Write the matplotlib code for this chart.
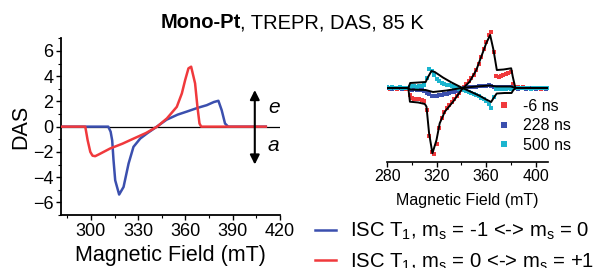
import numpy as np
import matplotlib
matplotlib.use("Agg")
import matplotlib.pyplot as plt
from matplotlib.lines import Line2D
from matplotlib.ticker import MultipleLocator

plt.rcParams['font.family'] = ['Liberation Sans', 'DejaVu Sans']
plt.rcParams['mathtext.fontset'] = 'custom'
plt.rcParams['mathtext.rm'] = 'Liberation Sans'
plt.rcParams['mathtext.it'] = 'Liberation Sans:italic'

# main DAS curves (field in mT)
das_blue_x = [281, 295, 311, 312.5, 313.5, 314.3, 315.4, 317.9, 320.7, 323.9, 327, 331.3, 336, 341.8,
              348, 355, 361, 368, 373.5, 378, 380.9, 383, 385.1, 387.1, 411]
das_blue_y = [0, 0, 0, -0.4, -1.1, -2.6, -4.25, -5.38, -4.78, -2.92, -1.6, -0.94, -0.5, 0,
              0.55, 0.95, 1.2, 1.5, 1.7, 1.95, 2.05, 1.3, 0.25, 0, 0]
das_red_x = [281, 296.4, 297.9, 299.6, 301, 302.7, 305, 312.2, 320, 327, 335, 342, 348.2, 354.5,
             357.7, 359.8, 361.9, 363.6, 366.1, 367.6, 368.9, 370, 411]
das_red_y = [0, 0, -1.07, -2.0, -2.3, -2.34, -2.2, -1.73, -1.35, -0.95, -0.5, 0, 0.65, 1.57,
             2.63, 3.69, 4.62, 4.75, 3.43, 1.57, 0.25, 0, 0]
legend_labels = [r'ISC T$_1$, m$_\mathregular{s}$ = -1 <-> m$_\mathregular{s}$ = 0',
                 r'ISC T$_1$, m$_\mathregular{s}$ = 0 <-> m$_\mathregular{s}$ = +1']

# inset: spectra at three delays, sampled every 2 mT from 280 to 410
field = np.arange(280, 411, 2)
pts_m6 = [0.05, -0.05, 0.1, 0.0, -0.1, 0.05, 0.0, -0.05, -0.1, -0.7,
          -1.0, -1.05, -1.1, -1.1, -1.15, -1.25, -2.2, -4.8, -6.4, -6.6,
          -5.6, -4.0, -3.0, -2.4, -2.0, -1.65, -1.35, -1.05, -0.75, -0.45,
          -0.15, 0.15, 0.4, 0.7, 1.0, 1.35, 1.8, 2.4, 3.1, 3.9,
          4.6, 5.3, 5.6, 3.6, 1.2, 1.15, 1.25, 1.35, 1.45, 1.55,
          1.6, 0.4, 0.1, 0.15, 0.05, 0.1, 0.0, 0.05, -0.05, 0.05,
          0.0, 0.05, -0.05, 0.05, 0.0, 0.05]
pts_228 = [0.0, 0.05, -0.05, 0.0, 0.05, 0.0, -0.05, 0.0, 0.0, -0.1,
           -0.15, -0.1, -0.15, -0.2, -0.15, -0.25, -0.45, -0.6, -0.75, -0.8,
           -0.75, -0.7, -0.65, -0.6, -0.55, -0.5, -0.4, -0.35, -0.25, -0.15,
           -0.05, 0.0, 0.05, 0.1, 0.1, 0.15, 0.15, 0.2, 0.2, 0.25,
           0.25, 0.3, 0.25, 0.15, 0.1, 0.1, 0.15, 0.1, 0.15, 0.1,
           0.15, 0.0, 0.05, -0.05, 0.0, 0.05, -0.05, 0.0, 0.05, 0.0,
           -0.05, 0.0, 0.05, 0.0, -0.05, 0.0]
pts_500 = [0.1, 0.05, 0.1, 0.0, 0.05, 0.1, 0.05, 0.0, 0.05, 0.15,
           0.2, 0.2, 0.15, 0.2, 0.25, 0.3, 1.0, 1.9, 1.7, 1.3,
           0.95, 0.75, 0.55, 0.45, 0.35, 0.3, 0.2, 0.1, 0.05, -0.05,
           -0.1, -0.2, -0.3, -0.4, -0.5, -0.6, -0.7, -0.8, -0.95, -1.1,
           -1.3, -1.6, -2.0, -0.9, -0.1, -0.05, 0.0, -0.1, -0.05, 0.0,
           -0.1, 0.0, 0.05, 0.0, 0.05, 0.0, 0.05, 0.0, -0.05, 0.0,
           0.05, 0.0, 0.05, 0.0, 0.05, 0.0]
delays = ['-6 ns', '228 ns', '500 ns']

# fits through the inset spectra
fit_m6_x = [280, 297, 298.3, 305, 310.4, 311.7, 313.8, 316.5, 319.8, 322.4, 326.5, 333.2, 339.9,
            346.6, 352, 356, 360, 363.2, 365.9, 368.6, 374, 380.2, 381.5, 383.6, 410]
fit_m6_y = [0, 0, -1.37, -1.45, -1.6, -1.87, -4.53, -6.53, -5.2, -3.53, -2.37, -1.37, -0.2,
            0.63, 1.8, 3.13, 4.47, 5.3, 3.8, 1.8, 1.85, 1.97, 1.13, 0, 0]
fit_228_x = [280, 297, 298.5, 311, 317, 328, 340, 352, 363, 368, 380, 384, 410]
fit_228_y = [0, 0, -0.15, -0.2, -0.4, -0.25, 0, 0.15, 0.25, 0.15, 0.15, 0, 0]
fit_500_x = [280, 297, 298.5, 305, 311, 313, 315.7, 318.4, 325, 332, 340, 348, 355, 360, 364,
             366, 368.5, 375, 380.5, 382, 384, 410]
fit_500_y = [0, 0, 0.5, 0.55, 0.6, 1.1, 1.7, 1.6, 1.05, 0.55, 0.05, -0.4, -0.8, -1.15, -1.4,
             -1.0, -0.55, -0.5, -0.5, -0.2, 0, 0]

blue = '#3b4fae'
red = '#f0393c'
cyan = '#1cb5cf'

fig = plt.figure(figsize=(5.98, 2.68), dpi=100)

# ---- main DAS panel
ax = fig.add_axes([61 / 598, 53 / 268, 219 / 598, 176.7 / 268])
ax.axhline(0, color='black', lw=0.9, zorder=1)
l_blue, = ax.plot(das_blue_x, das_blue_y, color=blue, lw=1.8, zorder=2)
l_red, = ax.plot(das_red_x, das_red_y, color=red, lw=1.8, zorder=3)
ax.set_xlim(281, 420)
ax.set_ylim(-7, 7)
ax.xaxis.set_minor_locator(MultipleLocator(15))
ax.yaxis.set_major_locator(MultipleLocator(2))
ax.yaxis.set_minor_locator(MultipleLocator(1))
ax.set_xticks([300, 330, 360, 390, 420])
ax.tick_params(which='major', length=3.5, width=1, labelsize=13, pad=2)
ax.tick_params(which='minor', length=2, width=0.8)
for s in ['top', 'right']:
    ax.spines[s].set_visible(False)
for s in ['left', 'bottom']:
    ax.spines[s].set_linewidth(1.3)
ax.set_xlabel('Magnetic Field (mT)', fontsize=15.5, labelpad=4)
ax.set_ylabel('DAS', fontsize=15.5, labelpad=1)

ax.annotate('', xy=(404, 2.9), xytext=(404, -3.0),
            arrowprops=dict(arrowstyle='<|-|>', color='black', lw=1.5,
                            mutation_scale=14, shrinkA=0, shrinkB=0))
ax.text(416, 1.5, 'e', style='italic', fontsize=15, ha='center', va='center')
ax.text(416, -1.5, 'a', style='italic', fontsize=15, ha='center', va='center')

fig.legend([l_blue, l_red], legend_labels, loc='upper left',
           bbox_to_anchor=(315 / 598, (268 - 221) / 268), frameon=False,
           fontsize=14.6, handlelength=1.05, handletextpad=0.7, labelspacing=0.45,
           borderpad=0, borderaxespad=0)

# ---- inset with time slices
ax2 = fig.add_axes([387.3 / 598, 106.3 / 268, 160.7 / 598, 135.7 / 268])
ax2.plot(field, pts_m6, 's', color=red, ms=2.8, mew=0, zorder=2)
ax2.plot(field, pts_228, 's', color=blue, ms=2.8, mew=0, zorder=3)
ax2.plot(field, pts_500, 's', color=cyan, ms=2.8, mew=0, zorder=4)
ax2.plot(fit_m6_x, fit_m6_y, color='black', lw=1.4, zorder=5)
ax2.plot(fit_228_x, fit_228_y, color='black', lw=1.4, zorder=5)
ax2.plot(fit_500_x, fit_500_y, color='black', lw=1.4, zorder=5)
ax2.set_xlim(280, 410)
ax2.set_ylim(-7.37, 6.2)
ax2.set_xticks([280, 320, 360, 400])
ax2.xaxis.set_minor_locator(MultipleLocator(20))
ax2.set_yticks([])
ax2.patch.set_alpha(0)
for s in ['top', 'right', 'left']:
    ax2.spines[s].set_visible(False)
ax2.spines['bottom'].set_linewidth(1.2)
ax2.tick_params(which='major', length=3.5, width=1, labelsize=11.5, pad=2)
ax2.tick_params(which='minor', length=2.5, width=0.8)
ax2.set_xlabel('Magnetic Field (mT)', fontsize=11.5, labelpad=6)

handles = [Line2D([], [], ls='', marker='s', color=c, ms=5, mew=0) for c in [red, blue, cyan]]
fig.legend(handles, delays, loc='upper left', bbox_to_anchor=(500 / 598, (268 - 99) / 268),
           frameon=False, fontsize=11.5, handlelength=0.5, handletextpad=0.95,
           labelspacing=0.28, borderpad=0, borderaxespad=0)

# ---- title
fig.text(240.5 / 598, (268 - 28.3) / 268, 'Mono-Pt', fontsize=14.5, fontweight='bold',
         ha='right', va='baseline')
fig.text(240.5 / 598, (268 - 28.3) / 268, ', TREPR, DAS, 85 K', fontsize=14.5,
         ha='left', va='baseline')

fig.savefig('out.png', dpi=100)
